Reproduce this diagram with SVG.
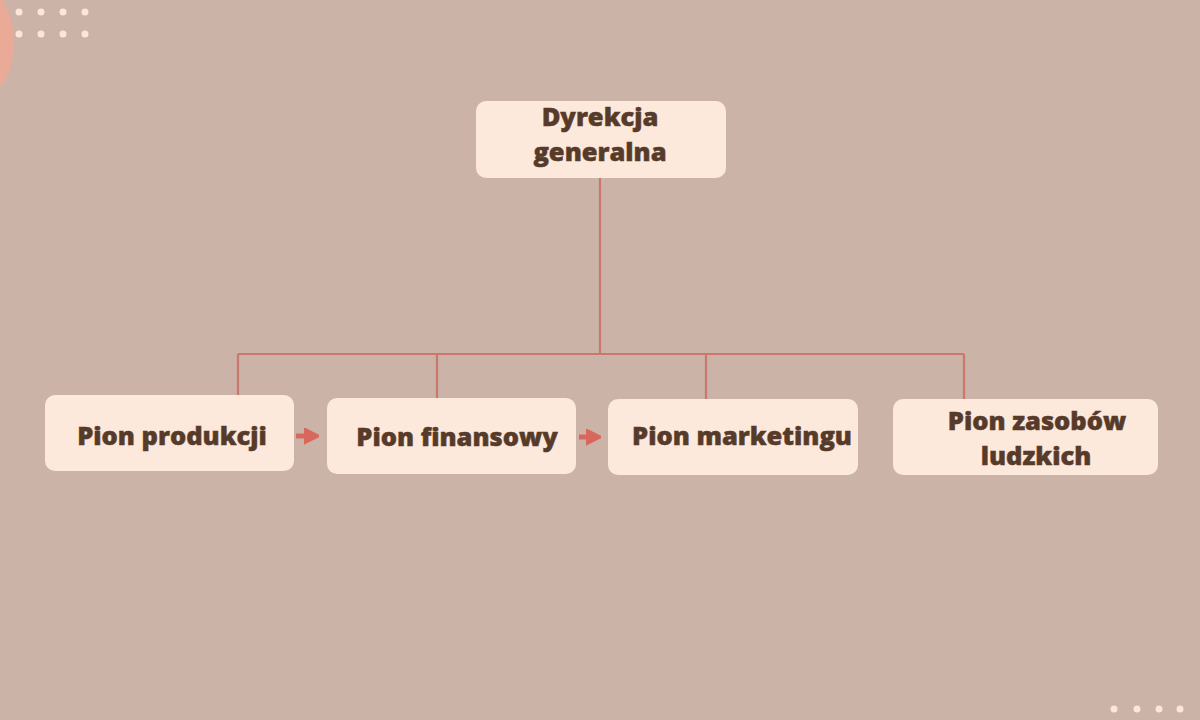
<svg xmlns="http://www.w3.org/2000/svg" width="1200" height="720" viewBox="0 0 1200 720">
<defs>
<style>
.box{fill:#fde8dc;}
.lbl{font-family:"Open Sans","Liberation Sans",sans-serif;font-weight:800;font-size:25.5px;fill:#573b2a;stroke:#573b2a;stroke-width:0.5;text-anchor:middle;}
.conn{stroke:#c9786b;stroke-width:2.2;fill:none;}
.arr{stroke:#d8685b;stroke-width:5;fill:none;}
.dot{fill:#fbe6dc;}
</style>
<marker id="ah" viewBox="0 0 10 10" refX="4" refY="5" markerWidth="3" markerHeight="3.4" orient="auto" markerUnits="strokeWidth">
<path d="M0,0 L10,5 L0,10 Z" fill="#d8685b" stroke="#d8685b" stroke-width="1.5" stroke-linejoin="round"/>
</marker>
</defs>
<rect width="1200" height="720" fill="#cbb3a8"/>
<ellipse cx="-22" cy="42" rx="36" ry="58" fill="#e9aa98"/>
<g id="dots-tl">
<circle class="dot" cx="19" cy="12" r="3.5"/><circle class="dot" cx="41" cy="12" r="3.5"/><circle class="dot" cx="63" cy="12" r="3.5"/><circle class="dot" cx="85" cy="12" r="3.5"/>
<circle class="dot" cx="19" cy="34" r="3.5"/><circle class="dot" cx="41" cy="34" r="3.5"/><circle class="dot" cx="63" cy="34" r="3.5"/><circle class="dot" cx="85" cy="34" r="3.5"/>
</g>
<g id="dots-br">
<circle class="dot" cx="1114" cy="709" r="3.5"/><circle class="dot" cx="1137" cy="709" r="3.5"/><circle class="dot" cx="1159" cy="709" r="3.5"/><circle class="dot" cx="1180" cy="709" r="3.5"/>
</g>
<g id="connectors">
<path class="conn" d="M600,178 V354 M238,354 H964 M238,354 V395 M437,354 V398 M706,354 V399 M964,354 V399"/>
<path class="arr" d="M296,436 H310" marker-end="url(#ah)"/>
<path class="arr" d="M579,437 H592" marker-end="url(#ah)"/>
</g>
<g id="n-dyrekcja">
<rect class="box" x="476" y="101" width="250" height="77" rx="10"/>
<text class="lbl" x="600" y="126">Dyrekcja</text>
<text class="lbl" x="600" y="161">generalna</text>
</g>
<g id="n-produkcji">
<rect class="box" x="45" y="395" width="249" height="76" rx="10"/>
<text class="lbl" x="172" y="445">Pion produkcji</text>
</g>
<g id="n-finansowy">
<rect class="box" x="327" y="398" width="249" height="76" rx="10"/>
<text class="lbl" x="457" y="446">Pion finansowy</text>
</g>
<g id="n-marketingu">
<rect class="box" x="608" y="399" width="250" height="76" rx="10"/>
<text class="lbl" x="742" y="445">Pion marketingu</text>
</g>
<g id="n-zasobow">
<rect class="box" x="893" y="399" width="265" height="76" rx="10"/>
<text class="lbl" x="1037" y="430">Pion zasobów</text>
<text class="lbl" x="1036" y="465">ludzkich</text>
</g>
</svg>
